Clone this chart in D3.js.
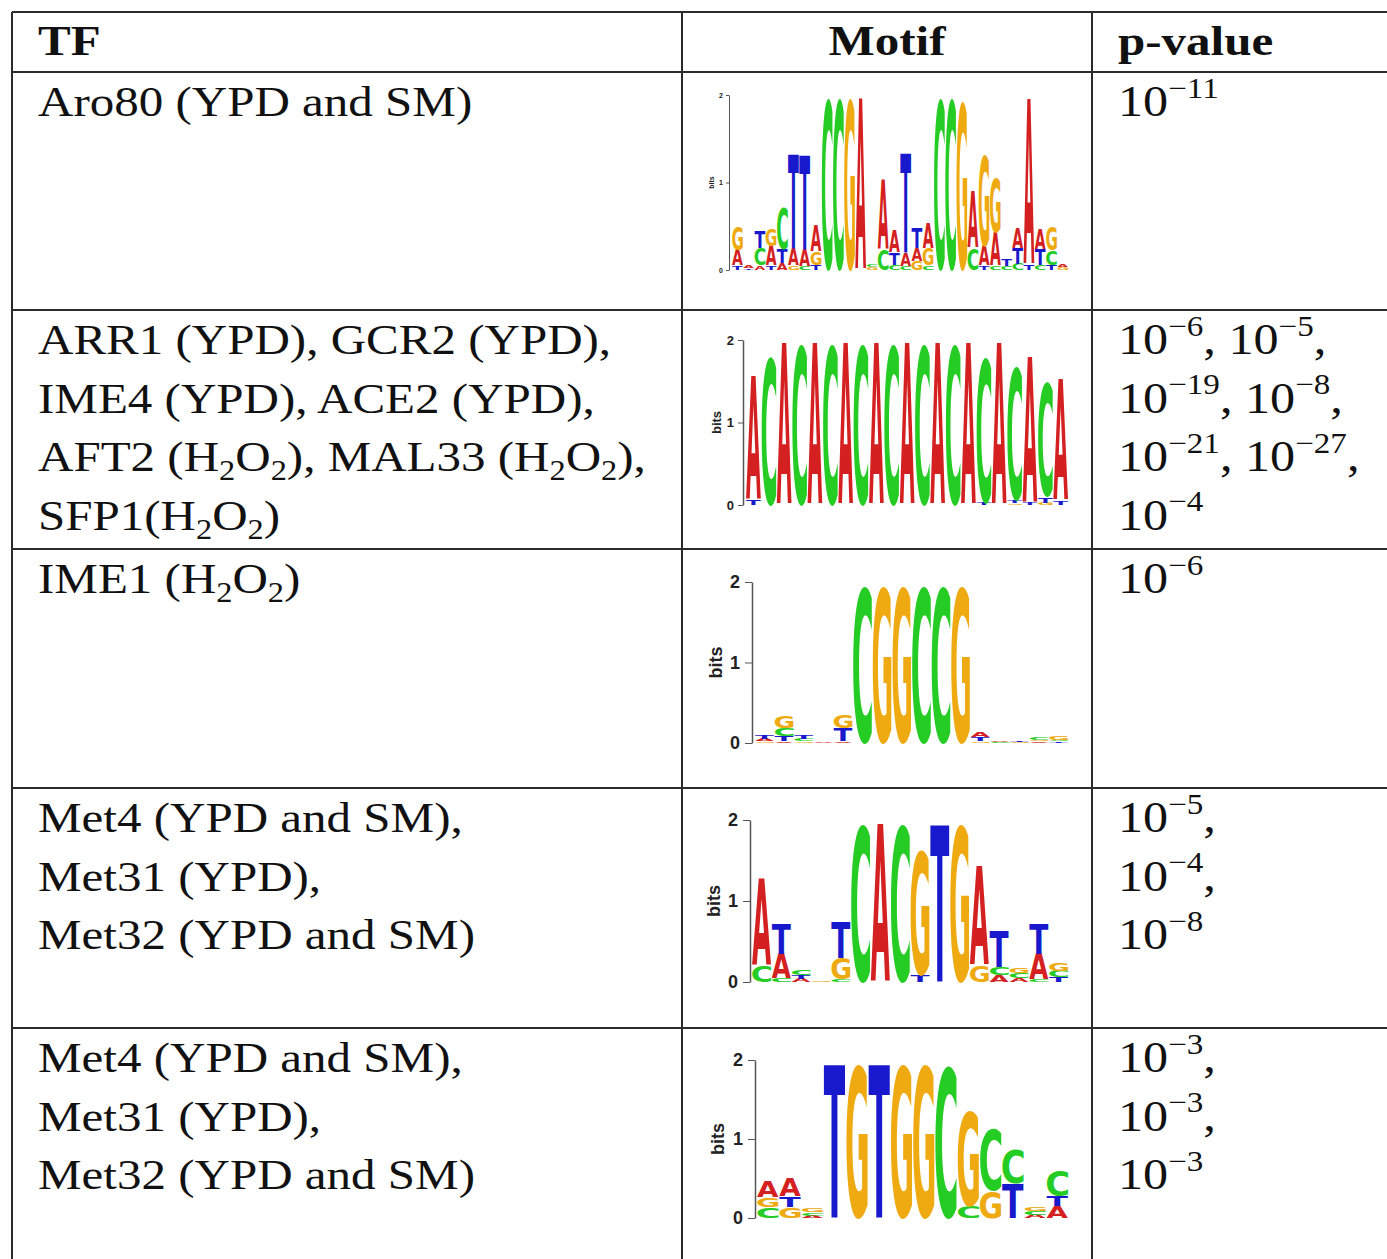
<!DOCTYPE html>
<html>
<head>
<meta charset="utf-8">
<script src="https://cdn.jsdelivr.net/npm/d3@7"></script>
<style>
  body { margin: 0; background: #fff; }
</style>
</head>
<body>
<svg id="chart" width="1387" height="1259"></svg>
<script>
// ---------- data ----------
var headers = ["TF", "Motif", "p-value"];

// "_2" marks a subscript 2
var tfNames = [
    ["Aro80 (YPD and SM)"],
    ["ARR1 (YPD), GCR2 (YPD),", "IME4 (YPD), ACE2 (YPD),", "AFT2 (H_2O_2), MAL33 (H_2O_2),", "SFP1(H_2O_2)"],
    ["IME1 (H_2O_2)"],
    ["Met4 (YPD and SM),", "Met31 (YPD),", "Met32 (YPD and SM)"],
    ["Met4 (YPD and SM),", "Met31 (YPD),", "Met32 (YPD and SM)"]
];

// p-value exponents, one array per printed line
var pExponents = [
    [[-11]],
    [[-6, -5], [-19, -8], [-21, -27], [-4]],
    [[-6]],
    [[-5], [-4], [-8]],
    [[-3], [-3], [-3]]
];

// motif columns, bottom -> top, [base, bits]
var logoAro80 = [
    [["T", 0.05], ["A", 0.18], ["G", 0.28]],
    [["T", 0.02], ["A", 0.03]],
    [["A", 0.05], ["C", 0.20], ["T", 0.20]],
    [["T", 0.05], ["A", 0.22], ["G", 0.20]],
    [["A", 0.08], ["T", 0.16], ["C", 0.48]],
    [["G", 0.05], ["A", 0.20], ["T", 1.08]],
    [["C", 0.04], ["A", 0.20], ["T", 1.08]],
    [["T", 0.06], ["G", 0.15], ["A", 0.30]],
    [["C", 1.96]],
    [["C", 1.96]],
    [["G", 1.96]],
    [["A", 1.96]],
    [["G", 0.03], ["C", 0.03]],
    [["C", 0.23], ["A", 0.80]],
    [["C", 0.06], ["T", 0.14], ["A", 0.26]],
    [["C", 0.04], ["A", 0.15], ["T", 1.14]],
    [["G", 0.10], ["A", 0.15], ["T", 0.23]],
    [["C", 0.05], ["G", 0.20], ["A", 0.28]],
    [["C", 1.96]],
    [["C", 1.96]],
    [["G", 1.93]],
    [["C", 0.25], ["A", 0.65]],
    [["T", 0.05], ["A", 0.22], ["G", 1.05]],
    [["C", 0.05], ["A", 0.38], ["G", 0.63]],
    [["C", 0.05], ["T", 0.08]],
    [["C", 0.07], ["T", 0.18], ["A", 0.22]],
    [["T", 0.06], ["A", 1.90]],
    [["C", 0.06], ["T", 0.18], ["A", 0.22]],
    [["T", 0.06], ["C", 0.17], ["G", 0.28]],
    [["G", 0.03], ["A", 0.03]]
];

var logoARR1 = [
    [["T", 0.06], ["A", 1.50]],
    [["C", 1.80]],
    [["A", 1.96]],
    [["C", 1.96]],
    [["A", 1.96]],
    [["C", 1.96]],
    [["A", 1.96]],
    [["C", 1.96]],
    [["A", 1.96]],
    [["C", 1.96]],
    [["A", 1.96]],
    [["C", 1.96]],
    [["A", 1.96]],
    [["C", 1.96]],
    [["A", 1.96]],
    [["T", 0.03], ["C", 1.78]],
    [["A", 1.96]],
    [["G", 0.02], ["T", 0.03], ["C", 1.62]],
    [["T", 0.03], ["A", 1.78]],
    [["G", 0.03], ["T", 0.07], ["C", 1.40]],
    [["T", 0.05], ["A", 1.48]]
];

var logoIME1 = [
    [["G", 0.02], ["A", 0.03], ["T", 0.05]],
    [["A", 0.02], ["T", 0.06], ["C", 0.10], ["G", 0.15]],
    [["G", 0.02], ["C", 0.03], ["T", 0.04]],
    [["A", 0.01]],
    [["A", 0.02], ["T", 0.17], ["G", 0.16]],
    [["C", 1.96]],
    [["G", 1.96]],
    [["G", 1.96]],
    [["C", 1.96]],
    [["C", 1.96]],
    [["G", 1.96]],
    [["G", 0.02], ["T", 0.05], ["A", 0.06]],
    [["C", 0.01], ["A", 0.01]],
    [["G", 0.01], ["T", 0.01]],
    [["A", 0.02], ["G", 0.02], ["C", 0.04]],
    [["T", 0.02], ["C", 0.02], ["G", 0.05]]
];

var logoMet4a = [
    [["C", 0.20], ["A", 1.08]],
    [["C", 0.04], ["A", 0.30], ["T", 0.38]],
    [["A", 0.04], ["T", 0.04], ["C", 0.06]],
    [["G", 0.01]],
    [["C", 0.03], ["G", 0.27], ["T", 0.45]],
    [["C", 1.96]],
    [["A", 1.96]],
    [["C", 1.96]],
    [["T", 0.08], ["G", 1.55]],
    [["T", 1.96]],
    [["G", 1.96]],
    [["G", 0.20], ["A", 1.22]],
    [["A", 0.08], ["C", 0.10], ["T", 0.46]],
    [["A", 0.05], ["C", 0.06], ["G", 0.07]],
    [["C", 0.03], ["A", 0.32], ["T", 0.37]],
    [["T", 0.06], ["C", 0.08], ["G", 0.10]]
];

var logoMet4b = [
    [["C", 0.14], ["G", 0.12], ["A", 0.20]],
    [["G", 0.14], ["T", 0.13], ["A", 0.23]],
    [["A", 0.03], ["C", 0.04], ["G", 0.05]],
    [["T", 1.96]],
    [["G", 1.96]],
    [["T", 1.96]],
    [["G", 1.96]],
    [["G", 1.96]],
    [["C", 1.94]],
    [["C", 0.15], ["G", 1.22]],
    [["G", 0.34], ["C", 0.78]],
    [["T", 0.44], ["C", 0.42]],
    [["A", 0.04], ["C", 0.05], ["G", 0.05]],
    [["A", 0.15], ["T", 0.13], ["C", 0.32]]
];

var logos = [logoAro80, logoARR1, logoIME1, logoMet4a, logoMet4b];

// ---------- layout ----------
var svg = d3.select("#chart");
var SX = 1.14;               // the scanned table is stretched sideways
var serif = "'Liberation Serif', 'Times New Roman', serif";
var sans = "'Liberation Sans', Arial, sans-serif";
var logoFont = "'DejaVu Sans', 'Liberation Sans', sans-serif";
var baseColor = { A: "#d42020", C: "#24cc24", G: "#eeaa10", T: "#1818cc" };

var colX = [12, 682, 1092, 1387];
var rowY = [12, 72, 310, 549, 788, 1028, 1259];
var lineGap = 58.5;

var logoBoxes = [
    { ax: 729, x0: 732, x1: 1068, y0: 270, y2: 95, fs: 7, tick: 3, pad: 3, bx: 712 },
    { ax: 743, x0: 746, x1: 1068, y0: 505, y2: 340, fs: 13, tick: 5, pad: 4, bx: 716 },
    { ax: 752, x0: 755, x1: 1068, y0: 743, y2: 582, fs: 18, tick: 7, pad: 5, bx: 716 },
    { ax: 750, x0: 752, x1: 1068, y0: 982, y2: 820, fs: 18, tick: 7, pad: 5, bx: 714 },
    { ax: 755, x0: 757, x1: 1068, y0: 1218, y2: 1060, fs: 18, tick: 7, pad: 5, bx: 718 }
];

// ---------- grid ----------
var grid = svg.append("g").attr("stroke", "#2b2b2b").attr("stroke-width", 2);
rowY.slice(0, -1).forEach(function (y) {
    grid.append("line").attr("x1", colX[0]).attr("x2", colX[3]).attr("y1", y).attr("y2", y);
});
colX.slice(0, 3).forEach(function (x) {
    grid.append("line").attr("x1", x).attr("x2", x).attr("y1", rowY[0]).attr("y2", rowY[6]);
});

// ---------- text helpers ----------
function richText(x, y, segs, size, weight, anchor) {
    var t = svg.append("text")
        .attr("transform", "translate(" + x + "," + y + ") scale(" + SX + ",1)")
        .attr("font-family", serif)
        .attr("font-size", size)
        .attr("font-weight", weight || "normal")
        .attr("text-anchor", anchor || "start")
        .attr("fill", "#111");
    var shift = 0;
    segs.forEach(function (s) {
        var target = s.sub ? size * 0.21 : (s.sup ? -size * 0.41 : 0);
        t.append("tspan")
            .attr("dy", target - shift)
            .attr("font-size", (s.sub || s.sup) ? size * 0.66 : size)
            .text(s.t);
        shift = target;
    });
    return t;
}

function parseSub(str) {
    return str.split(/(_\d)/).filter(function (p) { return p.length; }).map(function (p) {
        return p[0] === "_" ? { t: p.slice(1), sub: true } : { t: p };
    });
}

// header
richText(38, 55, [{ t: headers[0] }], 43, "bold");
richText((colX[1] + colX[2]) / 2, 55, [{ t: headers[1] }], 43, "bold", "middle");
richText(1118, 55, [{ t: headers[2] }], 43, "bold");

// TF names
tfNames.forEach(function (lines, r) {
    lines.forEach(function (line, j) {
        richText(38, rowY[r + 1] + 44 + j * lineGap, parseSub(line), 43);
    });
});

// p-values
pExponents.forEach(function (lines, r) {
    lines.forEach(function (exps, j) {
        var segs = [];
        var lastLine = j === lines.length - 1;
        exps.forEach(function (e, k) {
            segs.push({ t: "10" });
            segs.push({ t: "\u2212" + Math.abs(e), sup: true });
            var lastItem = lastLine && k === exps.length - 1;
            if (!lastItem) segs.push({ t: k < exps.length - 1 ? ", " : "," });
        });
        richText(1118, rowY[r + 1] + 44 + j * lineGap, segs, 44);
    });
});

// ---------- sequence logos ----------
var ctx = document.createElement("canvas").getContext("2d");
ctx.font = "bold 100px " + logoFont;
var glyph = {};
["A", "C", "G", "T"].forEach(function (l) {
    var m = ctx.measureText(l);
    glyph[l] = { l: m.actualBoundingBoxLeft, r: m.actualBoundingBoxRight,
                 a: m.actualBoundingBoxAscent, d: m.actualBoundingBoxDescent };
});

function drawLogo(cols, box) {
    var x = d3.scaleBand().domain(d3.range(cols.length)).range([box.x0, box.x1]).paddingInner(0.04);
    var y = d3.scaleLinear().domain([0, 2]).range([box.y0, box.y2]);
    var g = svg.append("g");

    var axis = d3.axisLeft(y).tickValues([0, 1, 2]).tickFormat(d3.format("d"))
        .tickSize(box.tick).tickSizeOuter(0).tickPadding(box.pad);
    var ag = g.append("g").attr("transform", "translate(" + box.ax + ",0)").call(axis);
    ag.select(".domain").attr("stroke", "#555").attr("stroke-width", box.fs > 10 ? 1.5 : 1);
    ag.selectAll(".tick line").attr("stroke", "#555");
    ag.selectAll(".tick text").attr("font-family", sans).attr("font-weight", "bold")
        .attr("font-size", box.fs).attr("fill", "#222");
    g.append("text")
        .attr("transform", "translate(" + box.bx + "," + ((box.y0 + box.y2) / 2) + ") rotate(-90)")
        .attr("text-anchor", "middle")
        .attr("dy", "0.35em")
        .attr("font-family", sans).attr("font-weight", "bold")
        .attr("font-size", box.fs).attr("fill", "#222")
        .text("bits");

    var stacks = [];
    cols.forEach(function (col, i) {
        var base = 0;
        col.forEach(function (d) {
            stacks.push({ i: i, base: d[0], b0: base, b1: base + d[1] });
            base += d[1];
        });
    });

    g.selectAll(".letter").data(stacks.filter(function (s) { return y(s.b0) - y(s.b1) > 0.4; }))
        .enter().append("text")
        .attr("class", "letter")
        .attr("font-family", logoFont)
        .attr("font-weight", "bold")
        .attr("font-size", 100)
        .attr("fill", function (s) { return baseColor[s.base]; })
        .attr("transform", function (s) {
            var m = glyph[s.base];
            var h = y(s.b0) - y(s.b1);
            var sx = x.bandwidth() / (m.l + m.r);
            var sy = h / (m.a + m.d);
            return "translate(" + x(s.i) + "," + y(s.b1) + ") scale(" + sx + "," + sy + ") translate(" + m.l + "," + m.a + ")";
        })
        .text(function (s) { return s.base; });
}

logos.forEach(function (cols, i) {
    drawLogo(cols, logoBoxes[i]);
});
</script>
</body>
</html>
